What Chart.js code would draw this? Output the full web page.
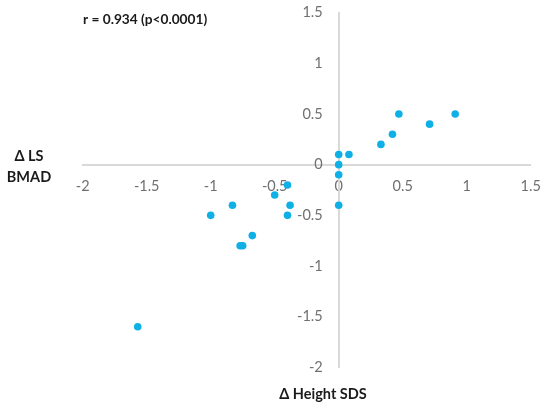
<!DOCTYPE html>
<html>
<head>
<meta charset="utf-8">
<script src="https://cdn.jsdelivr.net/npm/chart.js@4/dist/chart.umd.min.js"></script>
<style>
html,body{margin:0;padding:0;background:#fff;}
#wrap{width:545px;height:405px;position:relative;}
</style>
</head>
<body>
<div id="wrap"><canvas id="c" width="545" height="405"></canvas></div>
<script>
// Δ Height SDS (x) vs Δ LS BMAD (y)
const heightSDS = [0, 0.08, 0, 0, 0, 0.33, 0.42, 0.47, 0.71, 0.91, -0.40, -0.50, -0.38, -0.40, -1.00, -0.83, -0.675, -0.77, -0.75, -1.57];
const lsBMAD    = [0.1, 0.1, 0, -0.1, -0.4, 0.2, 0.3, 0.5, 0.4, 0.5, -0.2, -0.3, -0.4, -0.5, -0.5, -0.4, -0.7, -0.8, -0.8, -1.6];
const xTicks = [-2, -1.5, -1, -0.5, 0, 0.5, 1, 1.5];
const yTicks = [-2, -1.5, -1, -0.5, 0, 0.5, 1, 1.5];
const corrText = 'r = 0.934 (p<0.0001)';
const xTitle = 'Δ Height SDS';
const yTitle = ['Δ LS', 'BMAD'];

const points = heightSDS.map((x, i) => ({x: x, y: lsBMAD[i]}));

// Linear scale whose tick labels can be shifted away from an axis placed at a value
class ShiftedLinear extends Chart.LinearScale {
  drawLabels(chartArea) {
    const shift = this.options.labelShift || 0;
    const ctx = this.ctx;
    ctx.save();
    ctx.translate(-shift, 0);
    super.drawLabels(chartArea);
    ctx.restore();
  }
}
ShiftedLinear.id = 'shiftedLinear';
ShiftedLinear.defaults = Chart.LinearScale.defaults;
Chart.register(ShiftedLinear);

const textPlugin = {
  id: 'texts',
  afterDraw(chart) {
    const ctx = chart.ctx;
    ctx.save();
    ctx.fillStyle = '#1a1a1a';
    ctx.textBaseline = 'middle';
    ctx.textAlign = 'left';
    ctx.font = 'bold 13.7px Lato';
    ctx.fillText(corrText, 83, 20);
    ctx.font = 'bold 14.5px Lato';
    ctx.textAlign = 'center';
    ctx.fillText(yTitle[0], 29, 156.5);
    ctx.fillText(yTitle[1], 29, 177);
    ctx.fillText(xTitle, 323, 394.5);
    ctx.restore();
  }
};

const chart = new Chart(document.getElementById('c'), {
  type: 'scatter',
  data: {
    datasets: [{
      data: points,
      backgroundColor: '#0fb0e6',
      borderColor: '#0fb0e6',
      pointRadius: 3.8,
      pointHoverRadius: 3.8,
      borderWidth: 0
    }]
  },
  options: {
    responsive: false,
    animation: false,
    devicePixelRatio: 1,
    layout: {padding: {left: 82.7, right: 14.3, top: 12.7, bottom: 37.7}},
    plugins: {legend: {display: false}, tooltip: {enabled: false}, title: {display: false}},
    scales: {
      x: {
        type: 'linear',
        position: {y: 0},
        min: -2, max: 1.5,
        afterBuildTicks: (s) => { s.ticks = xTicks.map(v => ({value: v})); },
        afterFit: (s) => { s.height = 0; s.paddingLeft = 0; s.paddingRight = 0; },
        grid: {display: false, drawTicks: false},
        border: {display: true, color: '#d9d9d9', width: 2},
        ticks: {color: '#707070', font: {family: 'Lato', size: 14.5}, padding: 13, maxRotation: 0, autoSkip: false, callback: (v) => String(v)}
      },
      y: {
        type: 'shiftedLinear',
        position: {x: 0},
        min: -2, max: 1.5,
        labelShift: 16,
        afterBuildTicks: (s) => { s.ticks = yTicks.map(v => ({value: v})); },
        afterFit: (s) => { s.width = 0; s.paddingTop = 0; s.paddingBottom = 0; },
        grid: {display: false, drawTicks: false},
        border: {display: true, color: '#d9d9d9', width: 2},
        ticks: {color: '#707070', font: {family: 'Lato', size: 14.5}, padding: 0, autoSkip: false, callback: (v) => String(v)}
      }
    }
  },
  plugins: [textPlugin]
});

// Fit the axes to the reference frame: value -2..1.5 spans these pixels
const target = {left: 82.7, right: 530.7, top: 12.7, bottom: 367.3};
for (let k = 0; k < 6; k++) {
  const sx = chart.scales.x, sy = chart.scales.y;
  const p = chart.options.layout.padding;
  p.left += target.left - sx.getPixelForValue(-2);
  p.right += sx.getPixelForValue(1.5) - target.right;
  p.top += target.top - sy.getPixelForValue(1.5);
  p.bottom += sy.getPixelForValue(-2) - target.bottom;
  chart.update();
}
</script>
</body>
</html>
